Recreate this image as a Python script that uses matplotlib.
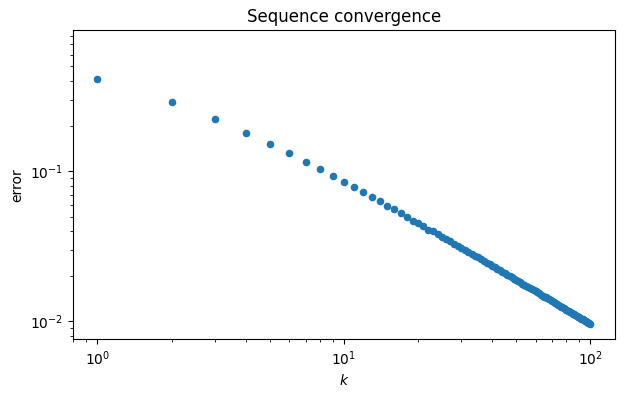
import numpy as np
import matplotlib
matplotlib.use("Agg")
import matplotlib.pyplot as plt

# iteration index
k = np.arange(1, 101)

# error values (log-log)
error = [
    0.412, 0.289, 0.223, 0.180, 0.152, 0.132, 0.115, 0.1035, 0.0929, 0.0847,
    0.0785, 0.0726, 0.0673, 0.0633, 0.0589, 0.0560, 0.0526, 0.0495, 0.0470, 0.0452,
    0.0429, 0.0408, 0.03978, 0.03822, 0.03677, 0.03544, 0.03419, 0.03303, 0.03195, 0.03094,
    0.02998, 0.02909, 0.02825, 0.02745, 0.02670, 0.02599, 0.02531, 0.02467, 0.02406, 0.02348,
    0.02293, 0.02240, 0.02190, 0.02142, 0.02096, 0.02052, 0.02009, 0.01969, 0.01930, 0.01892,
    0.01856, 0.01821, 0.01788, 0.01756, 0.01725, 0.01695, 0.01666, 0.01638, 0.01611, 0.01585,
    0.01559, 0.01535, 0.01511, 0.01488, 0.01465, 0.01444, 0.01423, 0.01402, 0.01382, 0.01363,
    0.01344, 0.01326, 0.01308, 0.01291, 0.01274, 0.01257, 0.01241, 0.01226, 0.01211, 0.01196,
    0.01181, 0.01167, 0.01153, 0.01140, 0.01127, 0.01114, 0.01101, 0.01089, 0.01077, 0.01065,
    0.01054, 0.01042, 0.01031, 0.01020, 0.01010, 0.00999, 0.00989, 0.00979, 0.00970, 0.00960,
]

fig, ax = plt.subplots(figsize=(6.24, 3.97), dpi=100)
ax.scatter(k, error, s=20)
ax.set_xscale("log")
ax.set_yscale("log")
ax.set_ylim(0.0076, 0.87)

ax.set_xlabel("$k$")
ax.set_ylabel("error")
ax.set_title("Sequence convergence")

# tight margins like the original figure
fig.subplots_adjust(left=0.1165, right=0.9856, top=0.9237, bottom=0.1453)
plt.savefig("out.png", dpi=100)
